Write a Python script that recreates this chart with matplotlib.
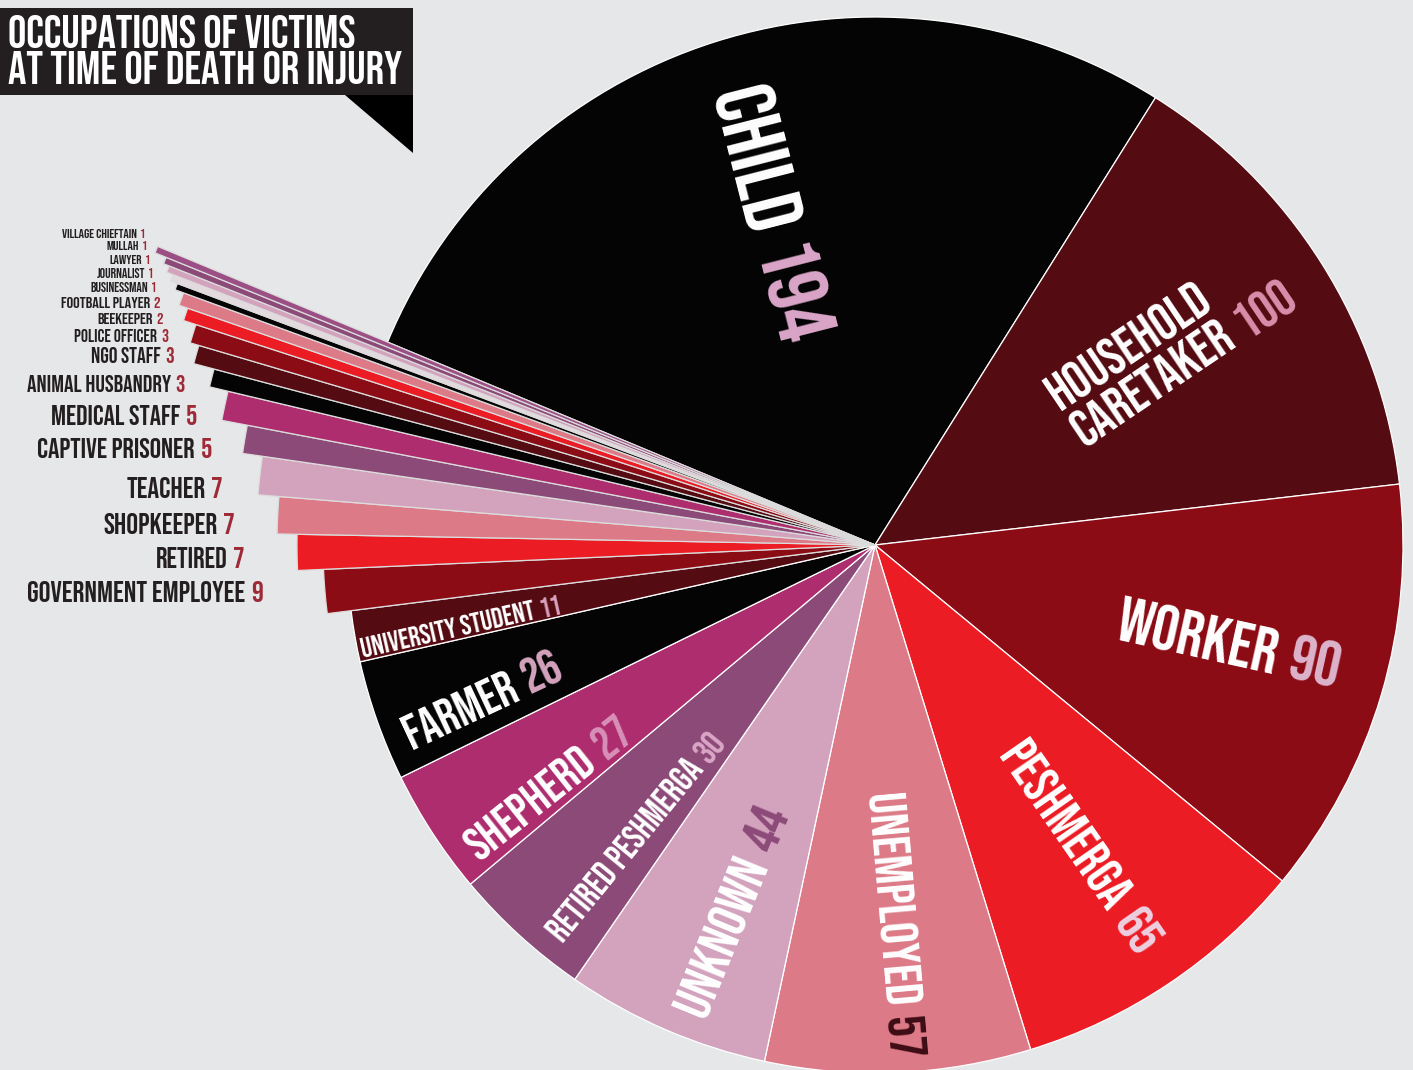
import numpy as np
import matplotlib
matplotlib.use("Agg")
import matplotlib.pyplot as plt
from matplotlib import font_manager
from matplotlib.patches import Rectangle, Polygon

# ---- data -------------------------------------------------------------
occupations = ["CHILD", "HOUSEHOLD CARETAKER", "WORKER", "PESHMERGA", "UNEMPLOYED",
               "UNKNOWN", "RETIRED PESHMERGA", "SHEPHERD", "FARMER", "UNIVERSITY STUDENT",
               "GOVERNMENT EMPLOYEE", "RETIRED", "SHOPKEEPER", "TEACHER", "CAPTIVE PRISONER",
               "MEDICAL STAFF", "ANIMAL HUSBANDRY", "NGO STAFF", "POLICE OFFICER", "BEEKEEPER",
               "FOOTBALL PLAYER", "BUSINESSMAN", "JOURNALIST", "LAWYER", "MULLAH",
               "VILLAGE CHIEFTAIN"]
victims = [194, 100, 90, 65, 57, 44, 30, 27, 26, 11,
           9, 7, 7, 7, 5, 5, 3, 3, 3, 2, 2, 1, 1, 1, 1, 1]
title_lines = ["OCCUPATIONS OF VICTIMS", "AT TIME OF DEATH OR INJURY"]

# ---- style --------------------------------------------------------------
BLACK, MAROON, DARKRED, RED = "#040404", "#540b12", "#8c0c16", "#ec1c24"
SALMON, LPINK, MAUVE, MAGENTA = "#dc7a87", "#d3a3be", "#8c4a78", "#ad2d6e"
slice_colors = [BLACK, MAROON, DARKRED, RED, SALMON, LPINK, MAUVE, MAGENTA, BLACK, MAROON,
                DARKRED, RED, SALMON, LPINK, MAUVE, MAGENTA, BLACK, MAROON, DARKRED, RED,
                SALMON, BLACK, "#e2dade", LPINK, MAUVE, "#9b4f85"]
number_colors = ["#dba6c9", "#d98fab", "#dcb4cb", "#ecd0e0", "#3d0c14",
                 "#8c4a78", "#d9a6c6", "#d890b8", "#d4a3bd", "#d9a3c0"]
BG = "#e6e7e8"
INK = "#231f20"
NUM_RED = "#9e2a38"

W, H = 1413, 1070
CX, CY, R = 875, H - 545, 528
START = 157.4
# outer radius of the thin slices drawn as spikes to the left
spike_radius = [552, 578, 598, 619, 639, 665, 684, 705, 714, 727, 736, 745, 752, 759, 765, 777]

# big slice labels: start point at mid cap height (image px), rotation, run length
big_pos = [(740, 87), (1050, 396), (1118, 617), (1012, 746), (885, 793),
           (687, 1012), (553, 936), (469, 848), (404, 734), (361, 648)]
big_rot = [-75.7, 34, -12.5, -55.2, -85, 67.7, 50.8, 38.5, 25, 12.7]
big_len = [263, 257, 225, 243, 265, 220, 258, 198, 168, 205]
# spike labels: right end x, centre y, run length
side_pos = [(263, 592), (245, 558), (235, 523), (223, 487), (212, 448), (197, 415),
            (185, 383), (174, 355), (168, 335), (163, 318), (160, 302), (156, 287),
            (153, 273), (150, 259), (147, 246), (145, 233)]
side_len = [233, 88, 130, 95, 174, 145, 157, 82, 92, 65, 98, 66, 56, 40, 40, 83]

available = {f.name for f in font_manager.fontManager.ttflist}
PREFS = ["Bebas Neue", "League Gothic", "Oswald", "Roboto Condensed"]
FONT = next((f for f in PREFS if f in available), "DejaVu Sans")

fig = plt.figure(figsize=(W / 100, H / 100), dpi=100, facecolor=BG)
ax = fig.add_axes([0, 0, 1, 1])
ax.set_facecolor(BG)

wedges, _ = ax.pie(victims, colors=slice_colors, startangle=START, counterclock=False,
                   radius=R, center=(CX, CY),
                   wedgeprops=dict(edgecolor="white", linewidth=0.9))
for w, r in zip(wedges[10:], spike_radius):
    w.set_radius(r)
    w.set_edgecolor("#dcdcdc")
ax.set_xlim(0, W)
ax.set_ylim(0, H)
ax.set_aspect("equal")
ax.axis("off")

fig.canvas.draw()
renderer = fig.canvas.get_renderer()


def text_width(s, size):
    t = ax.text(0, 0, s, fontsize=size, fontfamily=FONT, fontweight="bold")
    w = t.get_window_extent(renderer=renderer).width
    t.remove()
    return w


def fit_size(s, length, ref=20.0):
    return ref * length / text_width(s, ref)


def gap(size):
    return 0.2 * size * 100 / 72


def radial_label(x, y, name, num, rot, size, c_name, c_num):
    a = np.radians(rot)
    up = np.array([-np.sin(a), np.cos(a)])
    along = np.array([np.cos(a), np.sin(a)])
    cap = 0.72 * size * 100 / 72
    b = np.array([x, H - y]) - up * cap / 2
    kw = dict(fontsize=size, fontfamily=FONT, fontweight="bold", rotation=rot,
              rotation_mode="anchor", ha="left", va="baseline")
    ax.text(b[0], b[1], name, color=c_name, **kw)
    if num:
        p = b + along * (text_width(name, size) + gap(size))
        ax.text(p[0], p[1], num, color=c_num, **kw)
    return up


# labels inside the big slices
for i in range(10):
    x, y = big_pos[i]
    num = str(victims[i])
    if i == 1:
        first, second = occupations[i].split(" ")
        size = fit_size(second + " " + num, big_len[i])
        up = radial_label(x, y, first, "", big_rot[i], size, "white", None)
        m2 = np.array([x, H - y]) - up * 44
        radial_label(m2[0], H - m2[1], second, num, big_rot[i], size, "white", number_colors[i])
    else:
        size = fit_size(occupations[i] + " " + num, big_len[i])
        radial_label(x, y, occupations[i], num, big_rot[i], size, "white", number_colors[i])

# labels next to the spikes
for j, (xr, y) in enumerate(side_pos):
    i = j + 10
    num = str(victims[i])
    size = fit_size(occupations[i] + " " + num, side_len[j])
    kw = dict(fontsize=size, fontfamily=FONT, fontweight="bold", ha="right", va="center")
    ax.text(xr, H - y, num, color=NUM_RED, **kw)
    ax.text(xr - text_width(num, size) - gap(size), H - y, occupations[i], color=INK, **kw)

# title tab
ax.add_patch(Rectangle((0, H - 95), 413, 87, facecolor=INK, edgecolor="none"))
ax.add_patch(Polygon([(345, H - 95), (413, H - 95), (413, H - 153)], closed=True,
                     facecolor="black", edgecolor="none"))
tsize = fit_size(title_lines[1], 394)
for line, yc in zip(title_lines, [32, 68]):
    ax.text(8, H - yc, line, fontsize=tsize, fontfamily=FONT, fontweight="bold",
            color="white", ha="left", va="center")

fig.savefig("out.png", dpi=100, facecolor=BG)
